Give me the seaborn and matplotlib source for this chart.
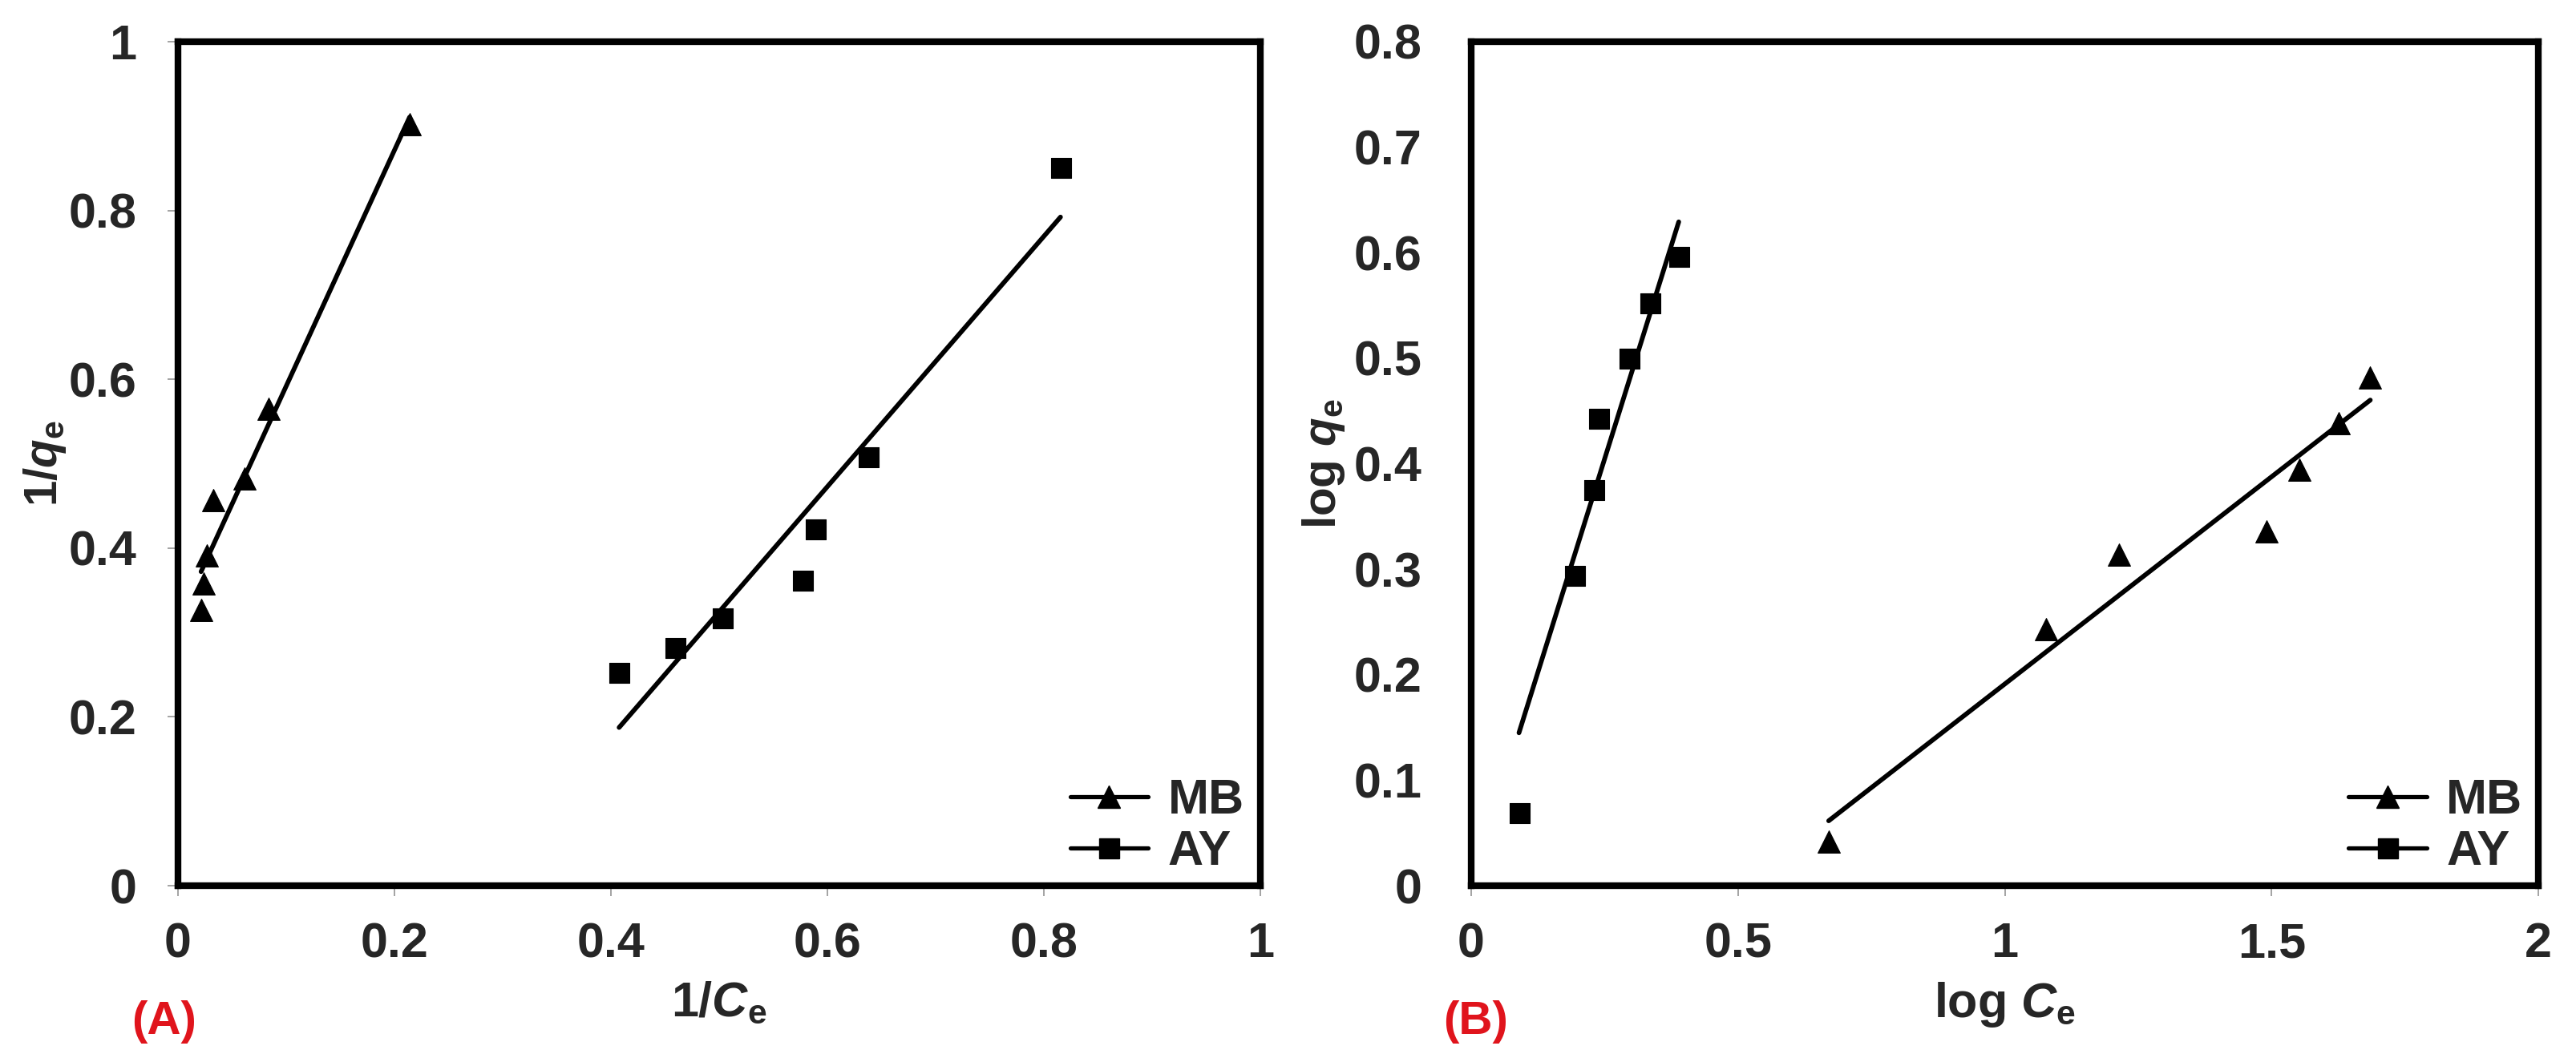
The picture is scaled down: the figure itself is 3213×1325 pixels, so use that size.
import numpy as np
import pandas as pd
import seaborn as sns
import matplotlib.pyplot as plt
from matplotlib.lines import Line2D
from matplotlib.ticker import FuncFormatter, MultipleLocator

# (A) Langmuir: 1/qe vs 1/Ce
mb_inv_ce = [0.0213, 0.0237, 0.0267, 0.0324, 0.0614, 0.0836, 0.214]
mb_inv_qe = [0.327, 0.358, 0.391, 0.457, 0.482, 0.565, 0.902]
ay_inv_ce = [0.4075, 0.459, 0.503, 0.5767, 0.5885, 0.638, 0.8153]
ay_inv_qe = [0.253, 0.282, 0.317, 0.362, 0.423, 0.508, 0.851]

# (B) Freundlich: log qe vs log Ce
mb_log_ce = [0.670, 1.078, 1.2145, 1.491, 1.552, 1.626, 1.685]
mb_log_qe = [0.042, 0.243, 0.314, 0.3356, 0.394, 0.438, 0.4816]
ay_log_ce = [0.0896, 0.1945, 0.2297, 0.2397, 0.2956, 0.3354, 0.389]
ay_log_qe = [0.069, 0.294, 0.375, 0.443, 0.500, 0.552, 0.596]

series_names = ['MB', 'AY']

sns.set_theme(style='white')
plt.rcParams['font.family'] = ['Liberation Sans', 'DejaVu Sans']
plt.rcParams['font.weight'] = 'bold'
plt.rcParams['mathtext.fontset'] = 'custom'
plt.rcParams['mathtext.rm'] = 'Liberation Sans:bold'
plt.rcParams['mathtext.it'] = 'Liberation Sans:italic:bold'
plt.rcParams['mathtext.bf'] = 'Liberation Sans:bold'

FS = 44
MS_TRI = 20
MS_SQ = 18


def trend(x, y, through_origin=False):
    x = np.asarray(x)
    y = np.asarray(y)
    if through_origin:
        k = np.sum(x * y) / np.sum(x * x)
        b = 0.0
    else:
        k, b = np.polyfit(x, y, 1)
    xs = np.array([x.min(), x.max()])
    return pd.DataFrame({'x': xs, 'y': k * xs + b})


def panel(ax, data, xlim, ylim, xstep, ystep, xlabel, ylabel, yticks_on):
    (mx, my, mfit), (ax_, ay_, afit) = data
    sns.lineplot(data=mfit, x='x', y='y', ax=ax, color='black', lw=4.2)
    sns.lineplot(data=afit, x='x', y='y', ax=ax, color='black', lw=4.2)
    sns.scatterplot(x=mx, y=my, ax=ax, marker='^', s=MS_TRI ** 2,
                    color='black', edgecolor='black', linewidth=0.8, zorder=3)
    sns.scatterplot(x=ax_, y=ay_, ax=ax, marker='s', s=MS_SQ ** 2,
                    color='black', edgecolor='black', linewidth=0.8, zorder=3)
    ax.set_xlim(*xlim)
    ax.set_ylim(*ylim)
    ax.xaxis.set_major_locator(MultipleLocator(xstep))
    ax.yaxis.set_major_locator(MultipleLocator(ystep))
    fmt = FuncFormatter(lambda v, p: f'{v:g}')
    ax.xaxis.set_major_formatter(fmt)
    ax.yaxis.set_major_formatter(fmt)
    for s in ax.spines.values():
        s.set_color('black')
        s.set_linewidth(6)
    ax.tick_params(axis='x', bottom=True, length=9.4, width=1.1, color='#8a8a8a',
                   pad=23, labelsize=FS)
    if yticks_on:
        ax.tick_params(axis='y', left=True, length=9.4, width=1.1, color='#8a8a8a',
                       pad=28, labelsize=FS)
    else:
        ax.tick_params(axis='y', left=False, pad=38, labelsize=FS)
    for lab in ax.get_xticklabels() + ax.get_yticklabels():
        lab.set_fontweight('bold')
    ax.set_xlabel(xlabel, fontsize=FS, fontweight='bold')
    ax.set_ylabel(ylabel, fontsize=FS - 2, fontweight='bold')
    ax.xaxis.set_label_coords(0.5, -0.112)
    handles = [Line2D([], [], color='black', lw=3.8, marker='^', ms=MS_TRI),
               Line2D([], [], color='black', lw=3.8, marker='s', ms=MS_SQ)]
    ax.legend(handles, series_names, loc='lower right', frameon=False,
              bbox_to_anchor=(0.985, 0.012), borderaxespad=0, borderpad=0,
              handlelength=1.6, handletextpad=0.4, labelspacing=0.12,
              prop={'size': FS, 'weight': 'bold'})


fig = plt.figure(figsize=(32.13, 13.25), dpi=100)
axA = fig.add_axes([0.0691, 0.1660, 0.4202, 0.7948])
axB = fig.add_axes([0.5711, 0.1660, 0.4143, 0.7948])

panel(axA,
      [(mb_inv_ce, mb_inv_qe, trend(mb_inv_ce, mb_inv_qe)),
       (ay_inv_ce, ay_inv_qe, trend(ay_inv_ce, ay_inv_qe))],
      (0, 1), (0, 1), 0.2, 0.2,
      r'1/$C_\mathrm{e}$', r'1/$q_\mathrm{e}$', True)
axA.yaxis.set_label_coords(-0.1015, 0.5)

panel(axB,
      [(mb_log_ce, mb_log_qe, trend(mb_log_ce, mb_log_qe)),
       (ay_log_ce, ay_log_qe, trend(ay_log_ce, ay_log_qe, through_origin=True))],
      (0, 2), (0, 0.8), 0.5, 0.1,
      r'log $C_\mathrm{e}$', r'log $q_\mathrm{e}$', False)
axB.yaxis.set_label_coords(-0.1165, 0.5)

fig.text(0.0638, 0.0377, '(A)', color='#E0141C', fontsize=42, fontweight='bold',
         ha='center', va='center')
fig.text(0.5727, 0.0377, '(B)', color='#E0141C', fontsize=42, fontweight='bold',
         ha='center', va='center')

fig.savefig('out.png', dpi=100)
